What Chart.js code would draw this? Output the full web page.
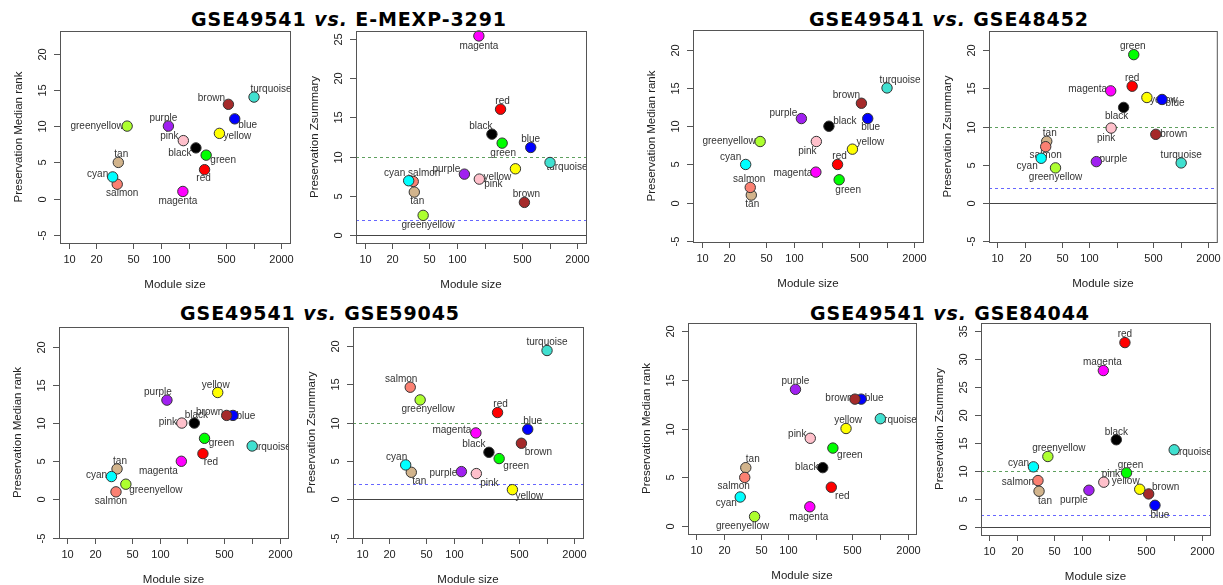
<!DOCTYPE html>
<html>
<head>
<meta charset="utf-8">
<script src="https://cdn.jsdelivr.net/npm/chart.js@4.4.1/dist/chart.umd.min.js"></script>
<style>
  body { margin: 0; background: #fff; width: 1223px; height: 585px; position: relative; overflow: hidden; }
  canvas { position: absolute; left: 0; top: 0; }
  .ttl { position: absolute; font: bold 19px "DejaVu Sans"; letter-spacing: 0.9px; white-space: nowrap; transform: translate(-50%, -50%); color: #000; }
</style>
</head>
<body>
<div class="ttl" style="left:349px;top:19px">GSE49541 <i>vs.</i> E-MEXP-3291</div>
<div class="ttl" style="left:949px;top:19px">GSE49541 <i>vs.</i> GSE48452</div>
<div class="ttl" style="left:320px;top:313px">GSE49541 <i>vs.</i> GSE59045</div>
<div class="ttl" style="left:950px;top:313px">GSE49541 <i>vs.</i> GSE84044</div>

<script>
// modules of the reference network (GSE49541), same order in every array
const modules = ['turquoise', 'blue', 'brown', 'yellow', 'green', 'red', 'black',
                 'pink', 'magenta', 'purple', 'greenyellow', 'tan', 'salmon', 'cyan'];
const moduleSize = [1010, 625, 534, 427, 307, 295, 238, 174, 172, 120, 43, 34.5, 33.6, 30];

// preservation median rank / Zsummary per test dataset
const rank_EMEXP3291 = [14, 11, 13, 9, 6, 4, 7, 8, 1, 10, 10, 5, 2, 3];
const zsum_EMEXP3291 = [9.26, 11.17, 4.19, 8.46, 11.72, 16.03, 12.86, 7.15, 25.34, 7.78, 2.54, 5.5, 6.85, 6.94];
const rank_GSE48452  = [15, 11, 13, 7, 3, 5, 10, 8, 4, 11, 8, 1, 2, 5];
const zsum_GSE48452  = [5.23, 13.55, 8.98, 13.81, 19.43, 15.29, 12.51, 9.8, 14.68, 5.4, 4.58, 8.06, 7.36, 5.84];
const rank_GSE59045  = [7, 11, 11, 14, 8, 6, 10, 10, 5, 13, 2, 4, 1, 3];
const zsum_GSE59045  = [19.43, 9.15, 7.32, 1.26, 5.32, 11.33, 6.14, 3.36, 8.67, 3.62, 12.98, 3.53, 14.64, 4.49];
const rank_GSE84044  = [11, 13, 13, 10, 8, 4, 6, 9, 2, 14, 1, 6, 5, 3];
const zsum_GSE84044  = [13.74, 3.82, 5.85, 6.69, 9.62, 32.9, 15.53, 7.95, 27.9, 6.51, 12.54, 6.33, 8.24, 10.69];

// axis ticks
const sizeTicks = [10, 20, 50, 100, 200, 500, 1000, 2000];
const sizeTickLabels = ['10', '20', '50', '100', '', '500', '', '2000'];
const rankTicks = [-5, 0, 5, 10, 15, 20];
const rankTicksPos = [0, 5, 10, 15, 20];
const zTicks = [-5, 0, 5, 10, 15, 20];
const zTicksEMEXP = [0, 5, 10, 15, 20, 25];
const zTicks84044 = [0, 5, 10, 15, 20, 25, 30, 35];

// R colour names
const colorHex = {
  turquoise: '#40E0D0', blue: '#0000FF', brown: '#A52A2A', yellow: '#FFFF00', green: '#00FF00',
  red: '#FF0000', black: '#000000', pink: '#FFC0CB', magenta: '#FF00FF', purple: '#A020F0',
  greenyellow: '#ADFF2F', tan: '#D2B48C', salmon: '#FA8072', cyan: '#00FFFF'
};

const W = 1223, H = 585;
const RANK = 'Preservation Median rank', ZS = 'Preservation Zsummary';

// layout: plot box, y range, label offsets (same module order)
const panels = [
  { box: [60, 31, 290, 243], vals: rank_EMEXP3291, yMin: -6.1, yMax: 23.1, ticks: rankTicks, title: RANK, lines: false,
    offs: [[17,-8],[13,6],[-17,-6],[18,3],[17,5],[-1,9],[-16,5],[-14,-4],[-5,10],[-5,-8],[-30,0],[3,-8],[5,9],[-15,-3]] },
  { box: [356, 31, 586, 243], vals: zsum_EMEXP3291, yMin: -0.97, yMax: 25.97, ticks: zTicksEMEXP, title: ZS, lines: true,
    offs: [[17,5],[0,-8],[2,-8],[-18,8],[1,10],[2,-8],[-11,-8],[14,5],[0,10],[-18,-5],[5,10],[3,9],[11,-8],[-14,-8]] },
  { box: [693, 30, 923, 242], vals: rank_GSE48452, yMin: -5.13, yMax: 22.57, ticks: rankTicks, title: RANK, lines: false,
    offs: [[13,-8],[3,9],[-15,-8],[18,-7],[9,10],[2,-8],[16,-5],[-9,10],[-23,1],[-18,-5],[-31,0],[1,9],[-1,-8],[-15,-7]] },
  { box: [989, 31, 1217, 242], vals: zsum_GSE48452, yMin: -5.14, yMax: 22.53, ticks: zTicks, title: ZS, lines: true,
    offs: [[0,-8],[13,4],[18,0],[17,3],[-1,-8],[0,-8],[-7,9],[-5,10],[-23,-2],[17,-2],[0,9],[3,-8],[0,9],[-14,8]] },
  { box: [59, 327, 288, 538], vals: rank_GSE59045, yMin: -5.04, yMax: 22.57, ticks: rankTicks, title: RANK, lines: false,
    offs: [[18,1],[13,1],[-17,-3],[-2,-7],[17,5],[8,9],[2,-8],[-14,-1],[-23,10],[-9,-8],[30,6],[3,-8],[-5,9],[-15,-1]] },
  { box: [353, 327, 583, 538], vals: zsum_GSE59045, yMin: -5.05, yMax: 22.5, ticks: zTicks, title: ZS, lines: true,
    offs: [[0,-8],[5,-8],[17,9],[17,7],[17,8],[3,-8],[-15,-8],[13,10],[-24,-3],[-18,2],[8,9],[8,9],[-9,-8],[-9,-8]] },
  { box: [688, 323, 916, 534], vals: rank_GSE84044, yMin: -0.78, yMax: 20.78, ticks: rankTicksPos, title: RANK, lines: false,
    offs: [[16,2],[13,-1],[-16,-1],[2,-8],[17,7],[11,9],[-16,0],[-13,-4],[-1,10],[0,-8],[-12,10],[7,-8],[-11,9],[-14,6]] },
  { box: [981, 323, 1210, 535], vals: zsum_GSE84044, yMin: -1.49, yMax: 36.4, ticks: zTicks84044, title: ZS, lines: true,
    offs: [[17,2],[5,10],[17,-7],[-14,-8],[4,-8],[0,-8],[0,-8],[7,-8],[-1,-8],[-15,10],[11,-8],[6,10],[-20,2],[-15,-4]] }
];

function rStyle(p) {
  return {
    id: 'rStyle',
    beforeDatasetsDraw(chart) {
      const { ctx, chartArea: a, scales: { y } } = chart;
      ctx.save();
      // like R, everything inside the plot region is clipped to the box
      ctx.beginPath();
      ctx.rect(a.left, a.top, a.right - a.left, a.bottom - a.top);
      ctx.clip();
      if (p.lines) {
        ctx.lineWidth = 1;
        ctx.setLineDash([3, 3]);
        ctx.strokeStyle = '#5fa05f';
        let yy = Math.round(y.getPixelForValue(10)) + 0.5;
        ctx.beginPath(); ctx.moveTo(a.left, yy); ctx.lineTo(a.right, yy); ctx.stroke();
        ctx.strokeStyle = '#6666ff';
        yy = Math.round(y.getPixelForValue(2)) + 0.5;
        ctx.beginPath(); ctx.moveTo(a.left, yy); ctx.lineTo(a.right, yy); ctx.stroke();
        ctx.setLineDash([]);
        ctx.strokeStyle = '#444';
        yy = Math.round(y.getPixelForValue(0)) + 0.5;
        ctx.beginPath(); ctx.moveTo(a.left, yy); ctx.lineTo(a.right, yy); ctx.stroke();
      }
      // module names, under the points like in the original
      ctx.font = '10px "Liberation Sans"';
      ctx.fillStyle = '#333';
      ctx.textAlign = 'center';
      ctx.textBaseline = 'middle';
      chart.getDatasetMeta(0).data.forEach((pt, i) => {
        ctx.fillText(modules[i], pt.x + p.offs[i][0], pt.y + p.offs[i][1]);
      });
      ctx.restore();
    },
    afterDraw(chart) {
      const { ctx, chartArea: a, scales: { x, y } } = chart;
      ctx.save();
      ctx.strokeStyle = '#555';
      ctx.lineWidth = 1;
      ctx.strokeRect(a.left + 0.5, a.top + 0.5, a.right - a.left, a.bottom - a.top);
      ctx.fillStyle = '#222';
      ctx.font = '11px "Liberation Sans"';
      ctx.textAlign = 'center';
      ctx.textBaseline = 'middle';
      // x axis
      sizeTicks.forEach((v, i) => {
        const px = Math.round(x.getPixelForValue(v)) + 0.5;
        ctx.beginPath(); ctx.moveTo(px, a.bottom); ctx.lineTo(px, a.bottom + 6); ctx.stroke();
        if (sizeTickLabels[i]) ctx.fillText(sizeTickLabels[i], px, a.bottom + 17);
      });
      // y axis
      p.ticks.forEach(v => {
        const py = Math.round(y.getPixelForValue(v)) + 0.5;
        ctx.beginPath(); ctx.moveTo(a.left, py); ctx.lineTo(a.left - 6, py); ctx.stroke();
        ctx.save();
        ctx.translate(a.left - 17, py);
        ctx.rotate(-Math.PI / 2);
        ctx.fillText(String(v), 0, 0);
        ctx.restore();
      });
      ctx.font = '11.5px "Liberation Sans"';
      ctx.fillText('Module size', (a.left + a.right) / 2, a.bottom + 42);
      ctx.save();
      ctx.translate(a.left - 41, (a.top + a.bottom) / 2);
      ctx.rotate(-Math.PI / 2);
      ctx.fillText(p.title, 0, 0);
      ctx.restore();
      ctx.restore();
    }
  };
}

panels.forEach(p => {
  const cv = document.createElement('canvas');
  cv.width = W; cv.height = H;
  document.body.appendChild(cv);
  new Chart(cv.getContext('2d'), {
    type: 'scatter',
    data: {
      datasets: [{
        data: moduleSize.map((s, i) => ({ x: s, y: p.vals[i] })),
        backgroundColor: modules.map(m => colorHex[m]),
        borderColor: '#333',
        borderWidth: 1,
        pointRadius: 5.2,
        clip: false
      }]
    },
    options: {
      responsive: false,
      animation: false,
      events: [],
      layout: { padding: { left: p.box[0], top: p.box[1], right: W - p.box[2], bottom: H - p.box[3] } },
      scales: {
        x: { type: 'logarithmic', display: false, min: 8.09, max: 2472 },
        y: { type: 'linear', display: false, min: p.yMin, max: p.yMax }
      },
      plugins: { legend: { display: false }, tooltip: { enabled: false } }
    },
    plugins: [rStyle(p)]
  });
});
</script>
</body>
</html>
